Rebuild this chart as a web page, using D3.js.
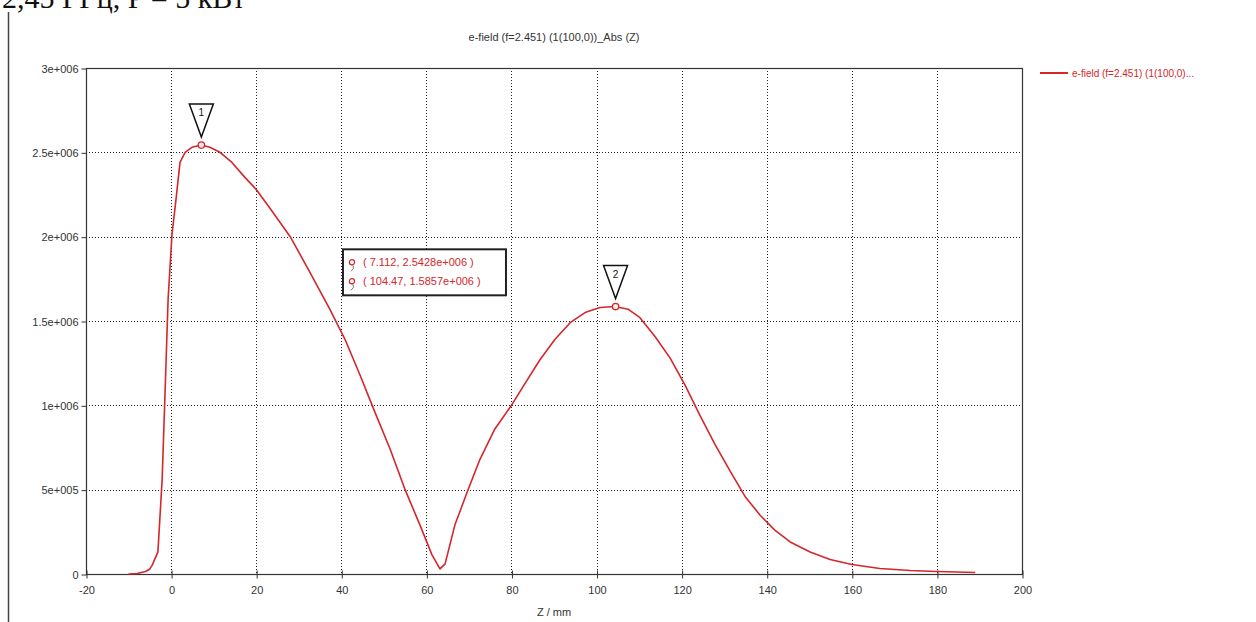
<!DOCTYPE html>
<html>
<head>
<meta charset="utf-8">
<script src="https://cdn.jsdelivr.net/npm/d3@7"></script>
<style>
  html, body { margin: 0; padding: 0; background: #fff; }
  svg { display: block; font-family: "Liberation Sans", "DejaVu Sans", sans-serif; }
  .axis text { fill: #333; font-size: 11px; }
</style>
</head>
<body>
<div id="chart"></div>
<script>
// E-field magnitude along Z.

const zMm = [-10, -8, -6, -5, -4.5, -3.1, -2.1, -1.4, -0.7, 0.2, 1.15, 2.1, 3.3, 4.9, 7.1, 9.1, 11.5, 14.3, 17.4, 20,
  23.2, 28, 32.6, 37.3, 40.9, 44.4, 47.9, 51.5, 55, 58.5, 61.3, 63.2, 64.4, 66.7, 69.8, 72.6, 76.1, 80,
  83.2, 86.7, 90.2, 93.8, 97.3, 100.8, 104.3, 107.4, 110.2, 113.7, 117.3, 120.8, 124.3, 127.8, 131.4,
  134.9, 138.4, 141.9, 145.5, 150.2, 154.9, 160, 166.6, 173.7, 180, 189];
const eAbs = [0, 3e3, 1.5e4, 3e4, 5e4, 1.3e5, 5.6e5, 1.09e6, 1.63e6, 2.01e6, 2.22e6, 2.44e6, 2.5e6, 2.53e6, 2.543e6, 2.53e6, 2.5e6, 2.44e6, 2.35e6, 2.28e6,
  2.17e6, 2.0e6, 1.79e6, 1.57e6, 1.39e6, 1.18e6, 0.96e6, 0.74e6, 0.5e6, 0.29e6, 0.115e6, 0.03e6, 0.06e6, 0.29e6, 0.5e6, 0.68e6, 0.86e6, 1.0e6,
  1.13e6, 1.27e6, 1.39e6, 1.49e6, 1.55e6, 1.58e6, 1.586e6, 1.57e6, 1.52e6, 1.41e6, 1.28e6, 1.12e6, 0.94e6, 0.77e6, 0.61e6,
  0.46e6, 0.35e6, 0.26e6, 0.19e6, 0.13e6, 0.086e6, 0.056e6, 0.033e6, 0.021e6, 0.015e6, 0.009e6];

const xTicks = [-20, 0, 20, 40, 60, 80, 100, 120, 140, 160, 180, 200];
const yTicks = [0, 5e5, 1e6, 1.5e6, 2e6, 2.5e6, 3e6];
const yTickLabels = ["0", "5e+005", "1e+006", "1.5e+006", "2e+006", "2.5e+006", "3e+006"];

const markerIds = ["1", "2"];
const markerZ = [7.112, 104.47];
const markerE = [2.5428e6, 1.5857e6];
const readoutLines = ["( 7.112, 2.5428e+006 )", "( 104.47, 1.5857e+006 )"];

const chartTitle = "e-field (f=2.451) (1(100,0))_Abs (Z)";
const legendLabel = "e-field (f=2.451) (1(100,0)...";
const xTitle = "Z / mm";
const caption = "2,45 ГГц, P = 5 кВт";

const W = 1256, H = 622;
const margin = { top: 68, right: 234, bottom: 48, left: 86 };
const RED = "#d4262b";

const svg = d3.select("#chart").append("svg").attr("width", W).attr("height", H);

const x = d3.scaleLinear().domain([-20, 200]).range([margin.left, W - margin.right]);
const y = d3.scaleLinear().domain([0, 3e6]).range([H - margin.bottom, margin.top]);

// page remnants: caption line cut by the top edge, left frame edge
svg.append("text").attr("x", 2).attr("y", 8)
  .attr("font-family", "Liberation Serif, serif").attr("font-size", 30).attr("fill", "#111")
  .text(caption);
svg.append("line").attr("x1", 8.5).attr("x2", 8.5).attr("y1", 12).attr("y2", H)
  .attr("stroke", "#444").attr("stroke-width", 1.5);

// grid
const grid = svg.append("g").attr("stroke", "#222").attr("stroke-width", 1).attr("stroke-dasharray", "1,2");
grid.selectAll("line.v").data(xTicks.slice(1, -1)).join("line").attr("class", "v")
  .attr("x1", d => Math.round(x(d)) + 0.5).attr("x2", d => Math.round(x(d)) + 0.5)
  .attr("y1", y(3e6)).attr("y2", y(0));
grid.selectAll("line.h").data(yTicks.slice(1, -1)).join("line").attr("class", "h")
  .attr("x1", x(-20)).attr("x2", x(200))
  .attr("y1", d => Math.round(y(d)) + 0.5).attr("y2", d => Math.round(y(d)) + 0.5);

// frame
svg.append("rect")
  .attr("x", x(-20) + 0.5).attr("y", y(3e6) + 0.5)
  .attr("width", x(200) - x(-20)).attr("height", y(0) - y(3e6))
  .attr("fill", "none").attr("stroke", "#333").attr("stroke-width", 1.2);

// axes
const gx = svg.append("g").attr("class", "axis").attr("transform", `translate(0.5,${y(0) + 0.5})`)
  .call(d3.axisBottom(x).tickValues(xTicks).tickSize(4).tickPadding(8).tickFormat(d => String(d)));
gx.select(".domain").remove();
gx.selectAll(".tick line").attr("y1", -4).attr("stroke", "#333");
gx.selectAll(".tick text").attr("font-family", "Liberation Sans, sans-serif");

const gy = svg.append("g").attr("class", "axis").attr("transform", `translate(${x(-20) + 0.5},0.5)`)
  .call(d3.axisLeft(y).tickValues(yTicks).tickSize(5).tickPadding(3).tickFormat((d, i) => yTickLabels[i]));
gy.select(".domain").remove();
gy.selectAll(".tick line").attr("stroke", "#333");
gy.selectAll(".tick text").attr("font-family", "Liberation Sans, sans-serif");

// titles
svg.append("text").attr("x", (x(-20) + x(200)) / 2).attr("y", 41)
  .attr("text-anchor", "middle").attr("font-size", 11).attr("fill", "#333").text(chartTitle);
svg.append("text").attr("x", (x(-20) + x(200)) / 2).attr("y", 616)
  .attr("text-anchor", "middle").attr("font-size", 11).attr("fill", "#333").text(xTitle);

// curve (plain polyline, like the solver's export)
const line = d3.line().x((d, i) => x(zMm[i])).y(d => y(d));
svg.append("path").datum(eAbs).attr("d", line)
  .attr("fill", "none").attr("stroke", RED).attr("stroke-width", 1.6).attr("stroke-linejoin", "round");

// markers
const mk = svg.append("g").selectAll("g").data(markerIds).join("g")
  .attr("transform", (d, i) => `translate(${x(markerZ[i])},${y(markerE[i])})`);
mk.append("path").attr("d", "M-12,-41 L12,-41 L0,-8 Z")
  .attr("fill", "#fff").attr("stroke", "#111").attr("stroke-width", 1.5).attr("stroke-linejoin", "miter");
mk.append("text").attr("y", -29).attr("text-anchor", "middle")
  .attr("font-size", 10).attr("fill", "#111").text(d => d);
mk.append("circle").attr("r", 3.2).attr("fill", "#fde8e8").attr("stroke", RED).attr("stroke-width", 1.3);

// readout box
const bx = x(40.4), by = y(1.925e6);
const box = svg.append("g").attr("transform", `translate(${bx},${by})`);
box.append("rect").attr("width", 163).attr("height", 46)
  .attr("fill", "#fff").attr("stroke", "#222").attr("stroke-width", 2);
const rows = box.selectAll("g").data(readoutLines).join("g")
  .attr("transform", (d, i) => `translate(0,${13 + i * 19})`);
rows.append("circle").attr("cx", 9).attr("cy", 0).attr("r", 2.6)
  .attr("fill", "none").attr("stroke", RED).attr("stroke-width", 1.2);
rows.append("path").attr("d", "M10,3 q2,3 -2,6").attr("fill", "none").attr("stroke", "#555").attr("stroke-width", 0.8);
rows.append("text").attr("x", 20).attr("y", 4).attr("font-size", 11).attr("fill", RED).text(d => d);

// legend
const lg = svg.append("g").attr("transform", `translate(${x(200) + 18},${y(3e6) + 5})`);
lg.append("line").attr("x1", 0).attr("x2", 28).attr("stroke", RED).attr("stroke-width", 2);
lg.append("text").attr("x", 32).attr("y", 3.5).attr("font-size", 10).attr("fill", RED).text(legendLabel);
</script>
</body>
</html>
